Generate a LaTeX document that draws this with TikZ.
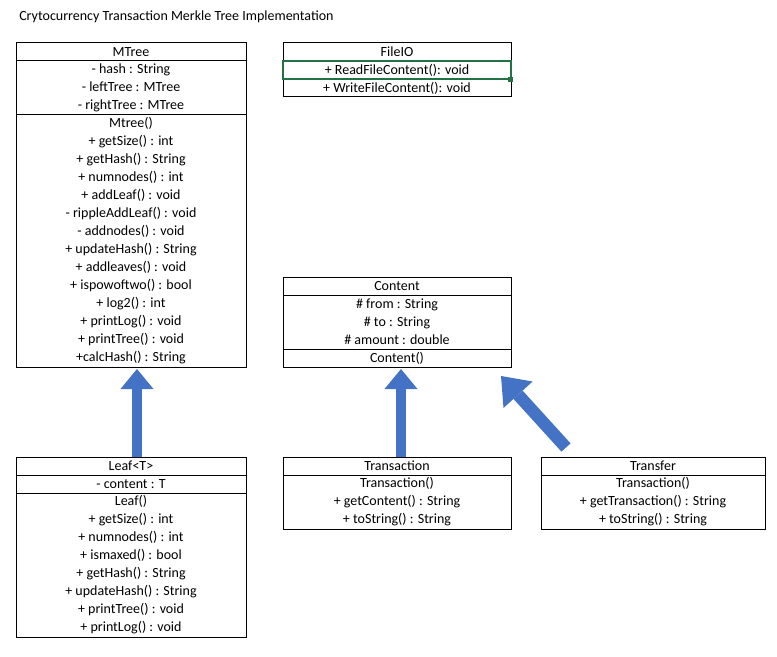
\documentclass[tikz,border=0pt]{standalone}
\usepackage{fontspec}
\setmainfont{Carlito}
\usetikzlibrary{arrows.meta,positioning}
\definecolor{arrowblue}{HTML}{4472C4}
\definecolor{selgreen}{HTML}{217346}

\begin{document}
\begin{tikzpicture}[x=0.75pt,y=-0.75pt,node distance=0pt,
  every node/.style={font=\fontsize{10.5}{13.5}\selectfont},
  part/.style={draw,line width=.75pt,inner sep=0pt,outer sep=0pt,align=center,minimum width=#1,minimum height=13.5pt},
  part/.default=171pt,
  nrows/.style={minimum height=#1*13.5pt},
  genarrow/.style={arrowblue,line width=7.5pt,-{Triangle[width=24.75pt,length=15pt,line width=0pt]}},
  bigarrow/.style={arrowblue,line width=9.25pt,-{Triangle[width=29.5pt,length=19pt,line width=0pt]}}]
\useasboundingbox (0,0) rectangle (777,656);
\node[anchor=west,inner sep=0pt] (title) at (19,17) {Crytocurrency Transaction Merkle Tree Implementation};

% MTree
\node[part=172.5pt,anchor=north west] (mtree) at (16,43) {MTree};
\node[part=172.5pt,nrows=3,below=of mtree] (mtreeA) {- hash : String\\- leftTree : MTree\\- rightTree : MTree};
\node[part=172.5pt,nrows=14,below=of mtreeA] (mtreeM) {Mtree()\\+ getSize() : int\\+ getHash() : String\\+ numnodes() : int\\+ addLeaf() : void\\- rippleAddLeaf() : void\\- addnodes() : void\\+ updateHash() : String\\+ addleaves() : void\\+ ispowoftwo() : bool\\+ log2() : int\\+ printLog() : void\\+ printTree() : void\\+calcHash() : String};

% FileIO
\node[part,anchor=north west] (fileio) at (283,43) {FileIO};
\node[part,below=of fileio] (fileioR) {+ ReadFileContent(): void};
\node[part,below=of fileioR] (fileioW) {+ WriteFileContent(): void};
\draw[selgreen,line width=1.5pt] (fileioR.south west) rectangle (fileioR.north east);
\fill[selgreen] ([xshift=-2pt,yshift=-2pt]fileioR.south east) rectangle ([xshift=1.5pt,yshift=1.5pt]fileioR.south east);

% Content
\node[part,anchor=north west] (content) at (283,277) {Content};
\node[part,nrows=3,below=of content] (contentA) {\# from : String\\\# to : String\\\# amount : double};
\node[part,below=of contentA] (contentM) {Content()};

% Leaf<T>
\node[part=172.5pt,anchor=north west] (leaf) at (16,457) {Leaf<T>};
\node[part=172.5pt,below=of leaf] (leafA) {- content : T};
\node[part=172.5pt,nrows=8,below=of leafA] (leafM) {Leaf()\\+ getSize() : int\\+ numnodes() : int\\+ ismaxed() : bool\\+ getHash() : String\\+ updateHash() : String\\+ printTree() : void\\+ printLog() : void};

% Transaction
\node[part,anchor=north west] (trans) at (283,457) {Transaction};
\node[part,nrows=3,below=of trans] (transM) {Transaction()\\+ getContent() : String\\+ toString() : String};

% Transfer
\node[part=168pt,anchor=north west] (transfer) at (541,457) {Transfer};
\node[part=168pt,nrows=3,below=of transfer] (transferM) {Transaction()\\+ getTransaction() : String\\+ toString() : String};

% inheritance arrows
\draw[genarrow] ([xshift=4.5pt]leaf.north) -- ([xshift=4.5pt,yshift=-1.5pt]mtreeM.south);
\draw[genarrow] ([xshift=3pt]trans.north) -- ([xshift=3pt,yshift=-1.5pt]contentM.south);
\coordinate (transferTail) at (566,447.5);
\coordinate (contentTip) at (501,376);
\draw[bigarrow] (transferTail) -- (contentTip);
\end{tikzpicture}
\end{document}
